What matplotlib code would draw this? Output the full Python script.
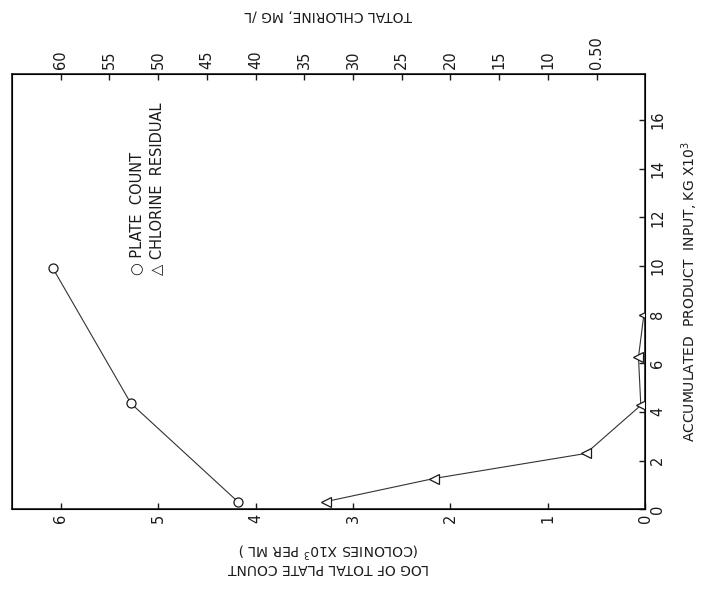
import matplotlib
matplotlib.use('Agg')
import matplotlib.pyplot as plt

# plate count: log count vs accumulated input
input_plate = [0.3, 4.35, 9.9]
log_plate = [4.18, 5.28, 6.08]

# chlorine residual, mg/L vs accumulated input
input_cl = [0.31, 1.26, 2.29, 4.27, 6.25, 7.98]
chlorine = [32.8, 21.7, 6.1, 0.46, 0.7, 0.15]

log_ticks = [0, 1, 2, 3, 4, 5, 6]
cl_ticks = [60, 55, 50, 45, 40, 35, 30, 25, 20, 15, 10, 5]
cl_labels = ['60', '55', '50', '45', '40', '35', '30', '25', '20', '15', '10', '0.50']
input_ticks = [0, 2, 4, 6, 8, 10, 12, 14, 16]

plt.rcParams['font.family'] = 'DejaVu Sans'
ink = '#1a1a1a'

fig = plt.figure(figsize=(7.06, 5.9), dpi=100)
ax = fig.add_axes([0.017, 0.137, 0.897, 0.738])

ax.plot(log_plate, input_plate, color='#333333', lw=0.8, marker='o', ms=6.5,
        mfc='white', mec=ink, mew=0.9)
ax.set_xlim(6.5, 0)
ax.set_ylim(0, 17.9)
ax.set_xticks(log_ticks)
ax.set_xticklabels([str(t) for t in log_ticks], rotation=90, fontsize=10.5)
ax.yaxis.tick_right()
ax.yaxis.set_label_position('right')
ax.set_yticks(input_ticks)
ax.set_yticklabels([str(t) for t in input_ticks], rotation=90, va='center', fontsize=10.5)
ax.tick_params(axis='both', direction='in', length=4, width=1, colors=ink)
ax.set_ylabel('ACCUMULATED  PRODUCT  INPUT, KG X10$^3$', fontsize=10, labelpad=10, color=ink)
ax.set_xlabel('LOG OF TOTAL PLATE COUNT\n(COLONIES X10$^3$ PER ML )', rotation=180,
              fontsize=10, labelpad=12, color=ink, linespacing=1.1)
for s in ax.spines.values():
    s.set_linewidth(1.2)
    s.set_color(ink)

ax2 = ax.twiny()
ax2.plot(chlorine, input_cl, color='#333333', lw=0.8, marker='<', ms=7.5,
         mfc='white', mec=ink, mew=0.9)
ax2.set_xlim(65, 0)
ax2.set_xticks(cl_ticks)
ax2.set_xticklabels(cl_labels, rotation=90, fontsize=10.5)
ax2.tick_params(axis='x', direction='in', length=4, width=1, colors=ink)
ax2.set_xlabel('TOTAL CHLORINE, MG /L', rotation=180, fontsize=10, labelpad=12, color=ink)

ax.text(0.197, 0.538, '\u25cb PLATE  COUNT', rotation=90, ha='center', va='bottom',
        fontsize=10.5, color=ink, transform=ax.transAxes)
ax.text(0.229, 0.538, '\u25b3 CHLORINE  RESIDUAL', rotation=90, ha='center', va='bottom',
        fontsize=10.5, color=ink, transform=ax.transAxes)

fig.savefig('out.png', dpi=100, facecolor='white')
